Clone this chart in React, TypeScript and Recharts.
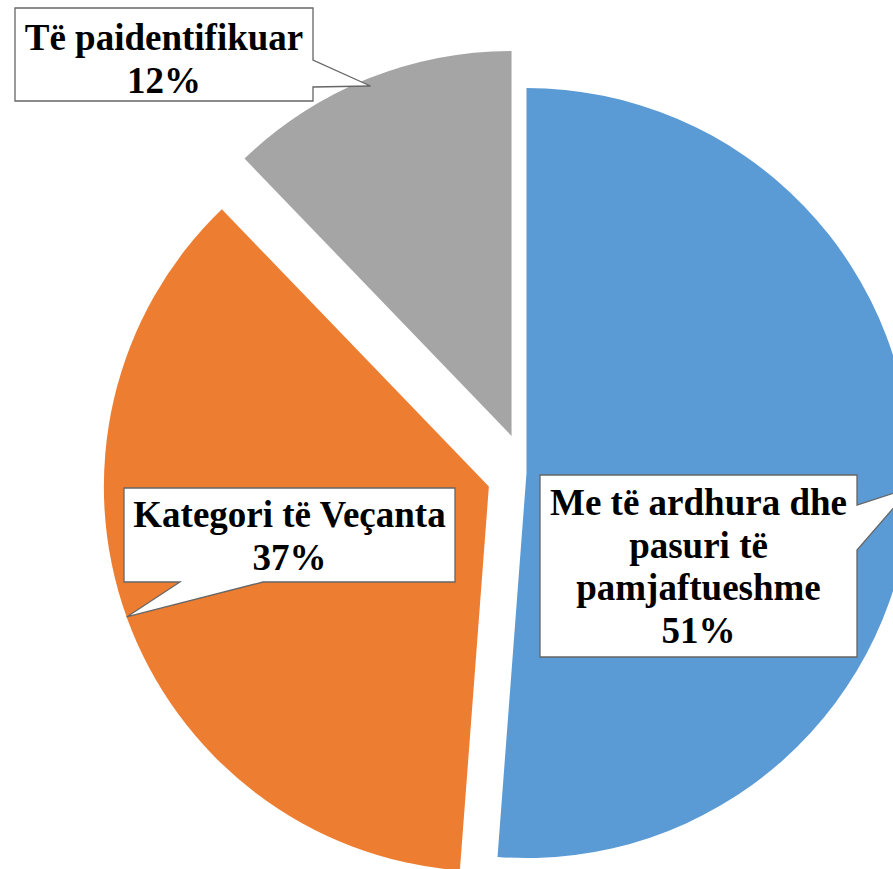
import React from "react";
import { PieChart, Pie, Cell } from "recharts";

const categories = [
  "Me të ardhura dhe pasuri të pamjaftueshme",
  "Kategori të Veçanta",
  "Të paidentifikuar",
];
const shares = [51.2, 36.6, 12.2];
const colors = ["#5B9BD5", "#ED7D31", "#A5A5A5"];

const data = categories.map((name, i) => ({ name, value: shares[i] }));

const RAD = Math.PI / 180;
const CX = 526.5;
const CY = 473;
const R = 385;
const explode = [0, 40, 40];
const FONT = '"Liberation Serif", "Times New Roman", Times, "DejaVu Serif", serif';

// hand placed callout boxes (like the Excel data callouts)
const callouts = [
  { x: 540, y: 475, w: 317, h: 182, side: "right", b1: 505, b2: 550, wrap: 17, first: 515, tipR: 1 },
  { x: 124, y: 488, w: 331, h: 94, side: "bottom", b1: 180, b2: 263, wrap: 20, first: 527, tipR: 1 },
  { x: 15, y: 8, w: 298, h: 93, side: "right", b1: 60, b2: 87, wrap: 20, first: 50, tipR: 0.98 },
];

const total = shares.reduce((a, b) => a + b, 0);
const midAngles = shares.map((v, i) => {
  const before = shares.slice(0, i).reduce((a, b) => a + b, 0);
  return ((before + v / 2) / total) * 360; // clockwise from 12 o'clock
});

function wrapText(text: string, max: number) {
  const out: string[] = [];
  let cur = "";
  text.split(" ").forEach((w) => {
    const next = cur ? cur + " " + w : w;
    if (next.length > max && cur) {
      out.push(cur);
      cur = w;
    } else cur = next;
  });
  if (cur) out.push(cur);
  return out;
}

const Callout = (props: any) => {
  const { cx, cy, midAngle, outerRadius, index, name, percent } = props;
  const c = callouts[index];
  const r = outerRadius * c.tipR;
  const tx = cx + r * Math.cos(-midAngle * RAD);
  const ty = cy + r * Math.sin(-midAngle * RAD);
  const { x, y, w, h } = c;
  let d = "";
  if (c.side === "right") {
    d = `M${x},${y} H${x + w} V${c.b1} L${tx},${ty} L${x + w},${c.b2} V${y + h} H${x} Z`;
  } else {
    d = `M${x},${y} H${x + w} V${y + h} H${c.b2} L${tx},${ty} L${c.b1},${y + h} H${x} Z`;
  }
  const lines = [...wrapText(name, c.wrap), `${Math.round(percent * 100)}%`];
  return (
    <g>
      <path d={d} fill="#fff" stroke="#666" strokeWidth={1.3} />
      <text
        x={x + w / 2}
        y={c.first}
        textAnchor="middle"
        style={{ fontFamily: FONT, fontWeight: 700, fontSize: 37 }}
        fill="#000"
      >
        {lines.map((l, i) => (
          <tspan key={i} x={x + w / 2} dy={i === 0 ? 0 : 42.5}>
            {l}
          </tspan>
        ))}
      </text>
    </g>
  );
};

export default function App() {
  return (
    <div
      style={{
        position: "absolute",
        left: 0,
        top: 0,
        width: 893,
        height: 869,
        overflow: "hidden",
        background: "#fff",
        fontFamily: FONT,
      }}
    >
      <PieChart width={893} height={869} margin={{ top: 0, right: 0, bottom: 0, left: 0 }}>
        {data.map((_, k) => {
          const m = midAngles[k] * RAD;
          const cx = CX + explode[k] * Math.sin(m);
          const cy = CY - explode[k] * Math.cos(m);
          return (
            <Pie
              key={k}
              data={data}
              dataKey="value"
              nameKey="name"
              cx={cx}
              cy={cy}
              outerRadius={R}
              startAngle={90}
              endAngle={-270}
              stroke="none"
              labelLine={false}
              label={(p: any) => (p.index === k ? <Callout {...p} /> : null)}
              isAnimationActive={false}
            >
              {data.map((_, i) => (
                <Cell key={i} fill={i === k ? colors[i] : "none"} />
              ))}
            </Pie>
          );
        })}
      </PieChart>
    </div>
  );
}
